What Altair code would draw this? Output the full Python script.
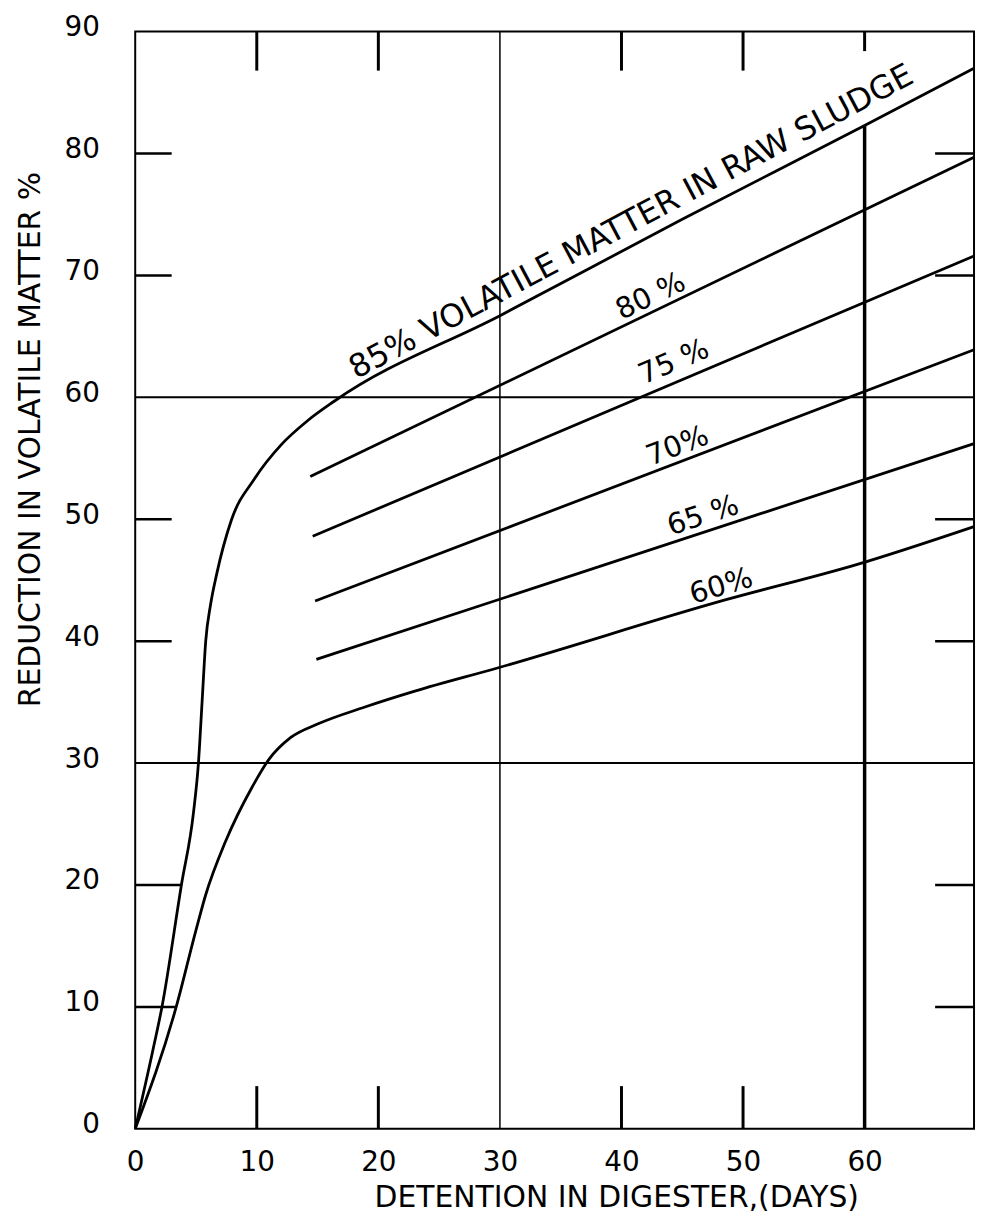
import altair as alt
import pandas as pd

# ---- data ----
# 85 % volatile matter curve (x = detention days, y = reduction %)
c85_x = [0, 1.4, 2.2, 3.8, 4.8, 5.2, 5.5, 5.8, 6.2, 6.7, 7.9, 9.8, 12.0, 14.2, 16.4, 30, 45, 60, 69]
c85_y = [0, 6.2, 10, 20, 26, 30, 35, 40, 43.0, 45.5, 49.9, 53.3, 56.1, 58.1, 59.7, 66.7, 74.6, 82.3, 87.0]
# 60 % volatile matter curve
c60_x = [0, 3.4, 5.0, 5.8, 7.4, 9.6, 11.0, 12.8, 15.0, 18.9, 23.0, 29.8, 48.6, 59.4, 69]
c60_y = [0, 10.1, 16.3, 19.2, 23.5, 28.0, 30.3, 32.1, 33.2, 34.6, 35.9, 37.8, 43.4, 46.3, 49.4]
# straight lines for 80, 75, 70, 65 %
mid_names = ["80", "75", "70", "65"]
mid_x_start = [14.4, 14.6, 14.8, 14.9]
mid_y_start = [53.5, 48.6, 43.3, 38.5]
mid_x_end = [69, 69, 69, 69]
mid_y_end = [79.7, 71.6, 63.9, 56.2]

# labels written along the lines
label_text = ["85% VOLATILE MATTER IN RAW SLUDGE", "80 %", "75 %", "70%", "65 %", "60%"]
label_x = [40.8, 42.4, 44.3, 44.6, 46.7, 48.2]
label_y = [74.4, 68.3, 62.9, 56.0, 50.3, 44.5]
label_angle = [332, 334.5, 337, 339, 342, 343.5]
label_size = [32, 29, 29, 29, 29, 29]

# frame ticks and reference lines
left_tick_y = [80, 70, 50, 40, 20, 10]
left_tick_end = [3.0, 3.0, 3.0, 3.0, 3.8, 3.4]
right_tick_y = [80, 70, 50, 40, 20, 10]
top_tick_x = [10, 20, 40, 50, 60]
top_tick_end = [86.8, 86.8, 86.8, 86.8, 88.4]
bottom_tick_x = [10, 20, 40, 50]
ref_h_y = [30, 60]
ref_v_x = [30, 60]
ref_v_top = [90, 82.3]

x_ticks = [0, 10, 20, 30, 40, 50, 60]
y_ticks = [0, 10, 20, 30, 40, 50, 60, 70, 80, 90]

X_MAX = 69
Y_MAX = 90

# ---- build tables ----
rows = []
for x, y in zip(c85_x, c85_y):
    rows.append({"series": "85", "x": x, "y": y})
for x, y in zip(c60_x, c60_y):
    rows.append({"series": "60", "x": x, "y": y})
for n, x0, y0, x1, y1 in zip(mid_names, mid_x_start, mid_y_start, mid_x_end, mid_y_end):
    rows.append({"series": n, "x": x0, "y": y0})
    rows.append({"series": n, "x": x1, "y": y1})
curves = pd.DataFrame(rows)

segs = []
for y, e in zip(left_tick_y, left_tick_end):
    segs.append({"x": 0, "x2": e, "y": y, "y2": y, "w": 2.5})
for y in right_tick_y:
    segs.append({"x": X_MAX - 3.2, "x2": X_MAX, "y": y, "y2": y, "w": 2.5})
for x, e in zip(top_tick_x, top_tick_end):
    segs.append({"x": x, "x2": x, "y": Y_MAX, "y2": e, "w": 3})
for x in bottom_tick_x:
    segs.append({"x": x, "x2": x, "y": 0, "y2": 3.5, "w": 3})
for y in ref_h_y:
    segs.append({"x": 0, "x2": X_MAX, "y": y, "y2": y, "w": 2})
for x, t in zip(ref_v_x, ref_v_top):
    segs.append({"x": x, "x2": x, "y": 0, "y2": t, "w": 1.5 if x == 30 else 3.5})
segments = pd.DataFrame(segs)

labels = pd.DataFrame({"text": label_text, "x": label_x, "y": label_y,
                       "angle": label_angle, "size": label_size})

FONT = "DejaVu Sans"
xs = alt.Scale(domain=[0, X_MAX], nice=False, zero=False)
ys = alt.Scale(domain=[0, Y_MAX], nice=False, zero=False)

x_axis = alt.Axis(
    values=x_ticks, title="DETENTION IN DIGESTER,(DAYS)", grid=False, ticks=False, domain=False,
    labelFont=FONT, labelFontSize=28, labelColor="black", labelPadding=34,
    labelBaseline="middle", labelFlush=False,
    titleFont=FONT, titleFontSize=30, titleFontWeight="normal", titleColor="black",
    titleX=484, titleY=69, titleAlign="center", titleBaseline="middle", titleAnchor="start",
)
y_axis = alt.Axis(
    values=y_ticks, title="REDUCTION IN VOLATILE MATTER %", grid=False, ticks=False, domain=False,
    labelFont=FONT, labelFontSize=28, labelColor="black", labelPadding=36,
    labelBaseline="middle", labelOffset=-4, labelFlush=False,
    titleFont=FONT, titleFontSize=30, titleFontWeight="normal", titleColor="black",
    titleAngle=270, titleX=-105, titleY=410, titleAlign="center", titleBaseline="middle",
    titleAnchor="start",
)

lines = alt.Chart(curves).mark_line(color="black", strokeWidth=2.8, interpolate="monotone").encode(
    x=alt.X("x:Q", scale=xs, axis=x_axis),
    y=alt.Y("y:Q", scale=ys, axis=y_axis),
    detail="series:N",
    order="x:Q",
)

rules = alt.Chart(segments).mark_rule(color="black").encode(
    x=alt.X("x:Q", scale=xs, axis=x_axis),
    x2="x2:Q",
    y=alt.Y("y:Q", scale=ys, axis=y_axis),
    y2="y2:Q",
    strokeWidth=alt.StrokeWidth("w:Q", scale=None),
)

texts = alt.Chart(labels).mark_text(
    font=FONT, color="black", align="center", baseline="middle"
).encode(
    x=alt.X("x:Q", scale=xs, axis=x_axis),
    y=alt.Y("y:Q", scale=ys, axis=y_axis),
    text="text:N",
    angle=alt.Angle("angle:Q", scale=None),
    size=alt.Size("size:Q", scale=None),
)

chart = alt.layer(lines, rules, texts).properties(
    width=844,
    height=1104,
    autosize=alt.AutoSizeParams(type="none"),
    padding={"left": 128, "top": 20, "right": 4, "bottom": 86},
    background="white",
).configure_view(stroke="black", strokeWidth=2)

chart.save("out.html", embed_options={"renderer": "svg", "actions": False})
